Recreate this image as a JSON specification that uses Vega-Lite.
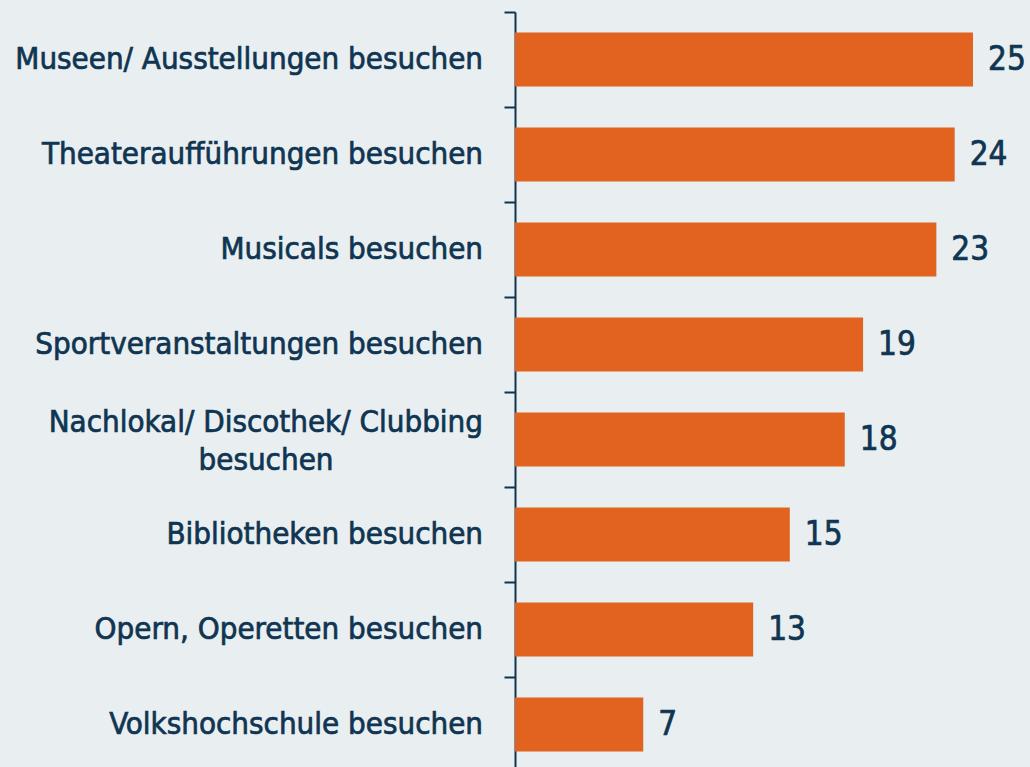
{
  "$schema": "https://vega.github.io/schema/vega-lite/v6.json",
  "width": 458,
  "height": 755,
  "autosize": "none",
  "padding": {"left": 515, "top": 12, "right": 57, "bottom": 0},
  "background": "#e9eef0",
  "config": {"view": {"stroke": null}},
  "data": {
    "values": [
      {"activity": "Museen/ Ausstellungen besuchen", "value": 25},
      {"activity": "Theateraufführungen besuchen", "value": 24},
      {"activity": "Musicals besuchen", "value": 23},
      {"activity": "Sportveranstaltungen besuchen", "value": 19},
      {"activity": "Nachlokal/ Discothek/ Clubbing besuchen", "value": 18, "line1": "Nachlokal/ Discothek/ Clubbing", "line2": "besuchen"},
      {"activity": "Bibliotheken besuchen", "value": 15},
      {"activity": "Opern, Operetten besuchen", "value": 13},
      {"activity": "Volkshochschule besuchen", "value": 7}
    ]
  },
  "encoding": {
    "y": {
      "field": "activity",
      "type": "nominal",
      "sort": null,
      "scale": {"range": [0, 760], "paddingInner": 0, "paddingOuter": 0},
      "axis": {
        "title": null,
        "tickBand": "extent",
        "domainColor": "#0d3550",
        "domainWidth": 2,
        "tickColor": "#0d3550",
        "tickWidth": 2,
        "tickSize": 11,
        "labels": false
      }
    },
    "x": {
      "field": "value",
      "type": "quantitative",
      "scale": {"domain": [0, 25], "nice": false},
      "axis": null
    }
  },
  "layer": [
    {"mark": {"type": "bar", "color": "#e2621f", "height": {"band": 0.57}}},
    {
      "mark": {"type": "text", "align": "left", "baseline": "middle", "dx": 15, "font": "DejaVu Sans Condensed", "fontSize": 33, "color": "#0f3552", "stroke": "#0f3552", "strokeWidth": 0.7},
      "encoding": {"text": {"field": "value", "type": "quantitative"}}
    },
    {
      "transform": [{"filter": "!isValid(datum.line1)"}],
      "mark": {"type": "text", "align": "right", "baseline": "middle", "dx": -32, "font": "DejaVu Sans Condensed", "fontSize": 31, "color": "#0f3552", "stroke": "#0f3552", "strokeWidth": 0.7},
      "encoding": {"x": {"datum": 0}, "text": {"field": "activity"}}
    },
    {
      "transform": [{"filter": "isValid(datum.line1)"}],
      "mark": {"type": "text", "align": "right", "baseline": "alphabetic", "dx": -32, "dy": -8, "font": "DejaVu Sans Condensed", "fontSize": 31, "color": "#0f3552", "stroke": "#0f3552", "strokeWidth": 0.7},
      "encoding": {"x": {"datum": 0}, "text": {"field": "line1"}}
    },
    {
      "transform": [{"filter": "isValid(datum.line2)"}],
      "mark": {"type": "text", "align": "center", "baseline": "alphabetic", "dx": -249, "dy": 30, "font": "DejaVu Sans Condensed", "fontSize": 31, "color": "#0f3552", "stroke": "#0f3552", "strokeWidth": 0.7},
      "encoding": {"x": {"datum": 0}, "text": {"field": "line2"}}
    }
  ]
}
